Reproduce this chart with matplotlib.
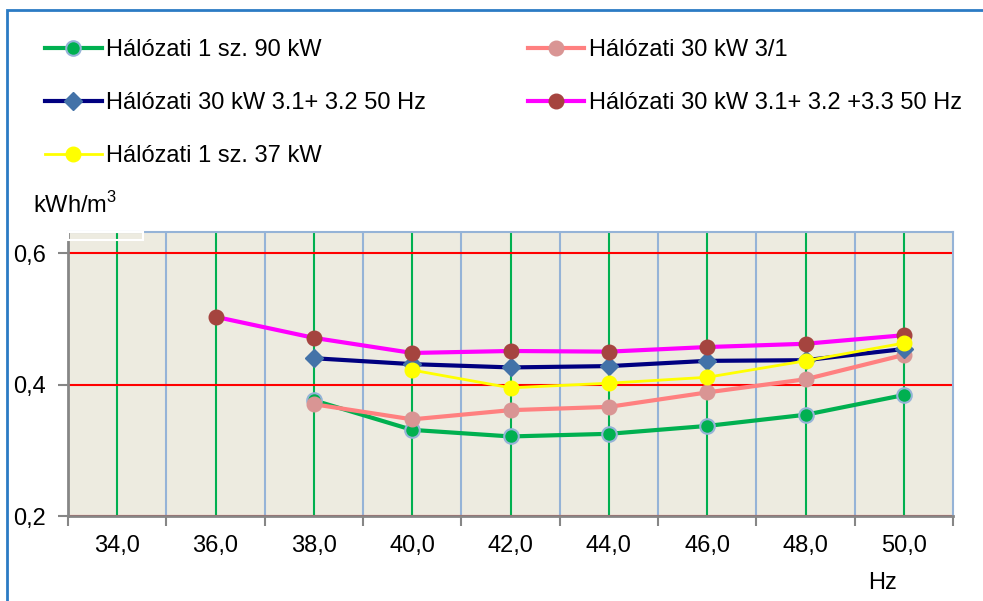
import numpy as np
import matplotlib
matplotlib.use('Agg')
import matplotlib.pyplot as plt
from matplotlib import patches

plt.rcParams['font.family'] = ['Liberation Sans', 'DejaVu Sans']
plt.rcParams['mathtext.fontset'] = 'custom'
plt.rcParams['mathtext.rm'] = 'Liberation Sans'

# frequency (Hz) and specific energy (kWh/m3)
hz = [36, 38, 40, 42, 44, 46, 48, 50]
nan = np.nan
halozati_1sz_90 = [nan, 0.376, 0.331, 0.321, 0.325, 0.337, 0.354, 0.384]
halozati_30_31 = [nan, 0.370, 0.347, 0.361, 0.366, 0.388, 0.408, 0.445]
halozati_30_312 = [nan, 0.440, 0.431, 0.426, 0.428, 0.436, 0.437, 0.454]
halozati_30_3123 = [0.503, 0.471, 0.448, 0.451, 0.450, 0.457, 0.462, 0.475]
halozati_1sz_37 = [nan, nan, 0.422, 0.395, 0.402, 0.411, 0.436, 0.463]

labels = ['Hálózati 1 sz. 90 kW', 'Hálózati 30 kW 3/1',
          'Hálózati 30 kW 3.1+ 3.2 50 Hz', 'Hálózati 30 kW 3.1+ 3.2 +3.3 50 Hz',
          'Hálózati 1 sz. 37 kW']
x_labels = [34, 36, 38, 40, 42, 44, 46, 48, 50]
y_ticks = [0.2, 0.4, 0.6]

FS = 17

fig = plt.figure(figsize=(9.83, 6.01), dpi=100)
ax = fig.add_axes([68 / 983, 1 - 516 / 601, 885 / 983, 284 / 601])
ax.set_facecolor('#EDEBE0')

x = np.array(hz, dtype=float)
l1, = ax.plot(x, halozati_1sz_90, color='#00B050', lw=3, marker='o', ms=10.5,
              mfc='#00B050', mec='#95B3D7', mew=1.5, label=labels[0], zorder=3)
l2, = ax.plot(x, halozati_30_31, color='#FF8080', lw=3, marker='o', ms=10.5,
              mfc='#D99594', mec='#D99594', label=labels[1], zorder=4)
l3, = ax.plot(x, halozati_30_312, color='#000080', lw=3, marker='D', ms=9,
              mfc='#4372A8', mec='#4372A8', label=labels[2], zorder=5)
l4, = ax.plot(x, halozati_30_3123, color='#FF00FF', lw=3, marker='o', ms=10.5,
              mfc='#A5443F', mec='#A5443F', label=labels[3], zorder=6)
l5, = ax.plot(x, halozati_1sz_37, color='#FFFF00', lw=2, marker='o', ms=10.5,
              mfc='#FFFF00', mec='#FFFF00', label=labels[4], zorder=7)

ax.set_xlim(33, 51)
ax.set_ylim(0.2, 0.632)

# category-style x axis: ticks between labels
ax.set_xticks(np.arange(33, 52, 2))
ax.set_xticklabels([])
ax.set_xticks(x_labels, minor=True)
ax.set_xticklabels([('%.1f' % v).replace('.', ',') for v in x_labels], minor=True)
ax.tick_params(axis='x', which='major', length=7, width=1.5, color='#868686')
ax.tick_params(axis='x', which='minor', length=0, pad=14, labelsize=FS)
ax.set_yticks(y_ticks)
ax.set_yticklabels([('%.1f' % v).replace('.', ',') for v in y_ticks])
ax.tick_params(axis='y', length=7, width=1.5, color='#868686', labelsize=FS, pad=9)

for v in np.arange(35, 51, 2):
    ax.axvline(v, color='#95B3D7', lw=1.5, zorder=1)
for v in x_labels:
    ax.axvline(v, color='#00B050', lw=1.5, zorder=1)
for v in y_ticks:
    ax.axhline(v, color='#FF0000', lw=1.5, zorder=2)

for s in ['left', 'bottom']:
    ax.spines[s].set_color('#868686')
    ax.spines[s].set_linewidth(2)
for s in ['top', 'right']:
    ax.spines[s].set_color('#95B3D7')
    ax.spines[s].set_linewidth(1.5)

ax.add_patch(patches.Rectangle((0, 0.972), 0.085, 0.028, transform=ax.transAxes,
                               fill=False, edgecolor='white', lw=1.5, zorder=8,
                               clip_on=False))

fig.legend(handles=[l1, l3, l5, l2, l4], loc='upper left',
           bbox_to_anchor=(45 / 983, 1 - 39.5 / 601), ncol=2, frameon=False,
           fontsize=FS, handlelength=2.4, handletextpad=0.2, columnspacing=4.3,
           labelspacing=1.3, borderpad=0, borderaxespad=0)

fig.text(33 / 983, 1 - 213 / 601, 'kWh/m$^3$', fontsize=FS, va='baseline')
fig.text(883 / 983, 1 - 583 / 601, 'Hz', fontsize=FS, ha='center', va='center')

fig.add_artist(patches.Rectangle((7 / 983, -0.05), 1.2, 1 - 10.5 / 601 + 0.05,
                                 transform=fig.transFigure, fill=False,
                                 edgecolor='#2B7BC4', lw=2))

fig.savefig('out.png', dpi=100)
